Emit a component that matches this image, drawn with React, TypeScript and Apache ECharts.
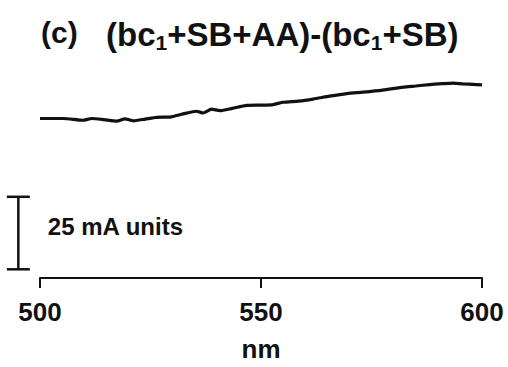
import React, { useEffect, useRef } from "react";
import * as echarts from "echarts";

// Difference spectrum (bc1+SB+AA) - (bc1+SB), absorbance in mA units
const wavelengths = [500, 505.3, 509.8, 511.7, 514.5, 517.4, 519.2, 521.1, 523.8, 526.4, 529.4, 532.4, 535.4, 536.9, 538.8, 540.7, 543.5, 546.8, 550.0, 552.8, 555.0, 558.5, 561.8, 565.5, 569.4, 573.1, 577.5, 582.2, 585.0, 588.2, 591.0, 593.5, 595.8, 598.0, 600];
const absorbance = [55.0, 55.0, 54.4, 55.0, 54.6, 54.1, 54.9, 54.2, 54.8, 55.4, 55.5, 56.6, 57.5, 56.9, 58.2, 57.7, 58.5, 59.5, 59.6, 59.8, 60.6, 61.0, 61.7, 62.7, 63.6, 64.1, 64.8, 65.8, 66.2, 66.7, 67.0, 67.2, 66.9, 66.8, 66.6];

const xTicks = [500, 550, 600];
// Scale bar: 25 mA units, drawn at its own wavelength position left of the axis
const scaleBar = [[495.1, 3, 28]];
const scaleLabel = "25 mA units";

export default function App() {
  const ref = useRef<HTMLDivElement>(null);

  useEffect(() => {
    if (!ref.current) return;
    const chart = echarts.init(ref.current, null, { renderer: "svg" });
    const font = "'Liberation Sans', Arial, sans-serif";
    chart.setOption({
      animation: false,
      backgroundColor: "#ffffff",
      grid: { left: 40, right: 26, top: 46, bottom: 81 },
      graphic: [
        {
          type: "text",
          left: 41,
          top: 17,
          style: { text: "(c)", font: `bold 30px ${font}`, fill: "#111" },
        },
        {
          type: "text",
          left: 106,
          top: 15,
          style: {
            text: "(bc{sub|1}+SB+AA)-(bc{sub|1}+SB)",
            font: `bold 33px ${font}`,
            fill: "#111",
            rich: {
              sub: { fontSize: 21, fontWeight: "bold", fontFamily: font, lineHeight: 22, padding: [17, 0, 0, 0], fill: "#111" },
            },
          },
        },
      ],
      xAxis: {
        type: "value",
        min: xTicks[0],
        max: xTicks[xTicks.length - 1],
        interval: 50,
        name: "nm",
        nameLocation: "middle",
        nameGap: 58,
        nameTextStyle: { fontSize: 26, fontWeight: "bold", fontFamily: font, color: "#111" },
        axisLine: { show: true, lineStyle: { color: "#111", width: 2 } },
        axisTick: { show: true, length: 10, lineStyle: { color: "#111", width: 2 } },
        axisLabel: { margin: 21, fontSize: 26, fontWeight: "bold", fontFamily: font, color: "#111" },
        splitLine: { show: false },
      },
      yAxis: {
        type: "value",
        min: 0,
        max: 80,
        show: false,
        splitLine: { show: false },
      },
      series: [
        {
          type: "line",
          data: wavelengths.map((w, i) => [w, absorbance[i]]),
          showSymbol: false,
          smooth: 0.2,
          lineStyle: { color: "#111", width: 3.2 },
        },
        {
          type: "custom",
          clip: false,
          data: scaleBar,
          renderItem: (params: any, api: any) => {
            const top = api.coord([api.value(0), api.value(2)]);
            const bot = api.coord([api.value(0), api.value(1)]);
            const cap = 11.5;
            const ls = { stroke: "#111", lineWidth: 2.5 };
            return {
              type: "group",
              children: [
                { type: "line", shape: { x1: top[0], y1: top[1], x2: bot[0], y2: bot[1] }, style: ls },
                { type: "line", shape: { x1: top[0] - cap, y1: top[1], x2: top[0] + cap, y2: top[1] }, style: ls },
                { type: "line", shape: { x1: bot[0] - cap, y1: bot[1], x2: bot[0] + cap, y2: bot[1] }, style: ls },
                {
                  type: "text",
                  x: top[0] + 29.5,
                  y: (top[1] + bot[1]) / 2 - 7,
                  style: {
                    text: scaleLabel,
                    font: `bold 24px ${font}`,
                    fill: "#111",
                    verticalAlign: "middle",
                    align: "left",
                  },
                },
              ],
            };
          },
        },
      ],
    });
    return () => chart.dispose();
  }, []);

  return <div ref={ref} style={{ position: "fixed", left: 0, top: 0, width: 508, height: 367 }} />;
}
